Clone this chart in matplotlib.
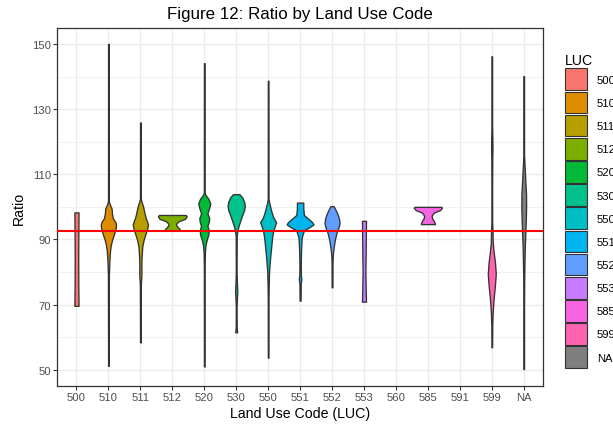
import matplotlib
matplotlib.use('Agg')
import matplotlib.pyplot as plt
from matplotlib.patches import Patch

plt.rcParams['font.family'] = ['Liberation Sans', 'DejaVu Sans']

# x axis categories (560 and 591 have no data)
codes = ['500', '510', '511', '512', '520', '530', '550', '551', '552',
         '553', '560', '585', '591', '599', 'NA']
luc_levels = ['500', '510', '511', '512', '520', '530', '550', '551', '552',
              '553', '585', '599', 'NA']
luc_colors = ['#F8766D', '#DE8C00', '#B79F00', '#7CAE00', '#00BA38', '#00C08B',
              '#00BFC4', '#00B4F0', '#619CFF', '#C77CFF', '#F564E3', '#FF64B0',
              '#7F7F7F']
median_ratio = 92.5
y_major = [50, 70, 90, 110, 130, 150]
y_minor = [60, 80, 100, 120, 140]

# violin outlines: ratio level / half width (category units)
r500 = [98.3, 90.0, 84.0, 76.0, 69.6]
w500 = [0.065, 0.058, 0.055, 0.058, 0.065]

r510 = [150.0, 101.8, 100.8, 99.5, 98.0, 96.5, 95.3, 94.4, 93.0, 91.5, 90.0,
        88.5, 86.5, 83.5, 79.0, 51.2]
w510 = [0.01, 0.012, 0.04, 0.10, 0.11, 0.14, 0.22, 0.24, 0.22, 0.17, 0.12,
        0.08, 0.05, 0.03, 0.015, 0.01]

r511 = [125.9, 102.5, 101.5, 100.3, 98.5, 96.8, 95.5, 94.5, 93.2, 91.7, 89.8,
        87.8, 85.0, 82.0, 80.0, 78.5, 76.0, 58.4]
w511 = [0.01, 0.012, 0.04, 0.08, 0.12, 0.16, 0.21, 0.24, 0.21, 0.16, 0.10,
        0.06, 0.04, 0.03, 0.035, 0.03, 0.015, 0.01]

r512 = [97.5, 97.1, 96.3, 95.6, 94.8, 94.2, 93.5, 92.9, 92.7]
w512 = [0.42, 0.45, 0.40, 0.20, 0.12, 0.13, 0.20, 0.245, 0.245]

r520 = [144.1, 104.3, 103.5, 102.5, 101.0, 99.5, 98.0, 96.5, 95.3, 94.2, 92.8,
        91.5, 90.0, 88.3, 86.0, 82.0, 51.0]
w520 = [0.01, 0.012, 0.05, 0.13, 0.19, 0.15, 0.10, 0.155, 0.14, 0.10, 0.14,
        0.13, 0.08, 0.04, 0.02, 0.012, 0.01]

r530 = [103.9, 102.9, 101.5, 100.3, 99.0, 97.5, 95.8, 94.0, 92.5, 91.0, 80.0,
        77.0, 74.0, 71.5, 69.0, 63.0, 61.5]
w530 = [0.10, 0.19, 0.25, 0.27, 0.25, 0.19, 0.13, 0.07, 0.035, 0.015, 0.012,
        0.02, 0.035, 0.02, 0.012, 0.015, 0.03]

r550 = [138.7, 102.5, 101.4, 99.8, 98.3, 96.8, 95.3, 94.2, 92.7, 90.6, 87.6,
        84.5, 80.4, 76.3, 72.0, 53.7]
w550 = [0.01, 0.012, 0.03, 0.07, 0.11, 0.16, 0.25, 0.21, 0.16, 0.125, 0.094,
        0.063, 0.03, 0.018, 0.012, 0.01]

r551 = [101.3, 99.5, 97.5, 96.4, 95.3, 94.6, 93.8, 92.8, 90.6, 86.6, 82.0,
        79.0, 77.8, 76.5, 71.2]
w551 = [0.10, 0.10, 0.12, 0.25, 0.38, 0.42, 0.30, 0.12, 0.05, 0.03, 0.02,
        0.025, 0.04, 0.02, 0.015]

r552 = [100.2, 99.3, 97.8, 96.3, 95.0, 93.6, 92.0, 90.0, 87.5, 85.5, 83.0, 75.3]
w552 = [0.05, 0.10, 0.17, 0.22, 0.235, 0.20, 0.14, 0.09, 0.05, 0.025, 0.015,
        0.012]

r553 = [95.7, 88.0, 80.0, 74.0, 70.9]
w553 = [0.063, 0.055, 0.045, 0.055, 0.063]

r585 = [100.0, 99.7, 99.0, 98.2, 97.3, 96.5, 95.6, 94.9, 94.7]
w585 = [0.42, 0.44, 0.38, 0.18, 0.12, 0.13, 0.19, 0.22, 0.22]

r599 = [146.2, 125.0, 121.0, 118.0, 115.0, 105.0, 95.0, 92.0, 89.0, 86.0,
        83.0, 79.5, 76.0, 72.0, 68.0, 64.0, 56.9]
w599 = [0.01, 0.01, 0.018, 0.022, 0.015, 0.01, 0.012, 0.025, 0.03, 0.06,
        0.10, 0.125, 0.10, 0.06, 0.03, 0.015, 0.01]

rNA = [140.1, 116.0, 112.0, 108.0, 104.0, 100.0, 96.0, 92.0, 88.0, 84.0,
       78.0, 70.0, 50.2]
wNA = [0.01, 0.01, 0.03, 0.05, 0.072, 0.075, 0.065, 0.05, 0.035, 0.025,
       0.015, 0.01, 0.01]

violins = {
    '500': (r500, w500), '510': (r510, w510), '511': (r511, w511),
    '512': (r512, w512), '520': (r520, w520), '530': (r530, w530),
    '550': (r550, w550), '551': (r551, w551), '552': (r552, w552),
    '553': (r553, w553), '585': (r585, w585), '599': (r599, w599),
    'NA': (rNA, wNA),
}

W, H = 613, 427
fig = plt.figure(figsize=(W / 100, H / 100), dpi=100)
ax = fig.add_axes([57.3 / W, 1 - 386.7 / H, (542.9 - 57.3) / W, (386.7 - 29.3) / H])

for code, color in zip(luc_levels, luc_colors):
    x = codes.index(code)
    r, w = violins[code]
    ax.fill_betweenx(r, [x - v for v in w], [x + v for v in w],
                     facecolor=color, edgecolor='#333333', linewidth=0.95, zorder=2)

ax.axhline(median_ratio, color='red', linewidth=1.5, zorder=3)

ax.set_xlim(-0.6, len(codes) - 0.4)
ax.set_ylim(45.1, 154.8)
ax.set_xticks(range(len(codes)))
ax.set_xticklabels(codes)
ax.set_yticks(y_major)
ax.set_yticks(y_minor, minor=True)
ax.tick_params(which='major', length=2.6, width=0.8, color='#333333',
               labelcolor='#4D4D4D', labelsize=8.1, pad=2)
ax.tick_params(which='minor', length=0)
ax.grid(which='major', color='#EBEBEB', linewidth=0.95)
ax.grid(which='minor', axis='y', color='#EBEBEB', linewidth=0.5)
ax.set_axisbelow(True)
for s in ax.spines.values():
    s.set_color('#333333')
    s.set_linewidth(0.9)

ax.set_title('Figure 12: Ratio by Land Use Code', fontsize=12.2, pad=7.5)
ax.set_xlabel('Land Use Code (LUC)', fontsize=10.2, labelpad=2.5)
ax.set_ylabel('Ratio', fontsize=10.2, labelpad=4)

handles = [Patch(facecolor=c, edgecolor='#333333', linewidth=0.8) for c in luc_colors]
fig.legend(handles, luc_levels, loc='upper left',
           bbox_to_anchor=(565 / W, 1 - 54 / H), frameon=False,
           fontsize=8.1, title='LUC', title_fontsize=10.2,
           handlelength=1.93, handleheight=2.59, labelspacing=0.13,
           handletextpad=0.9, borderpad=0, borderaxespad=0, alignment='left')

fig.savefig('out.png', dpi=100)
